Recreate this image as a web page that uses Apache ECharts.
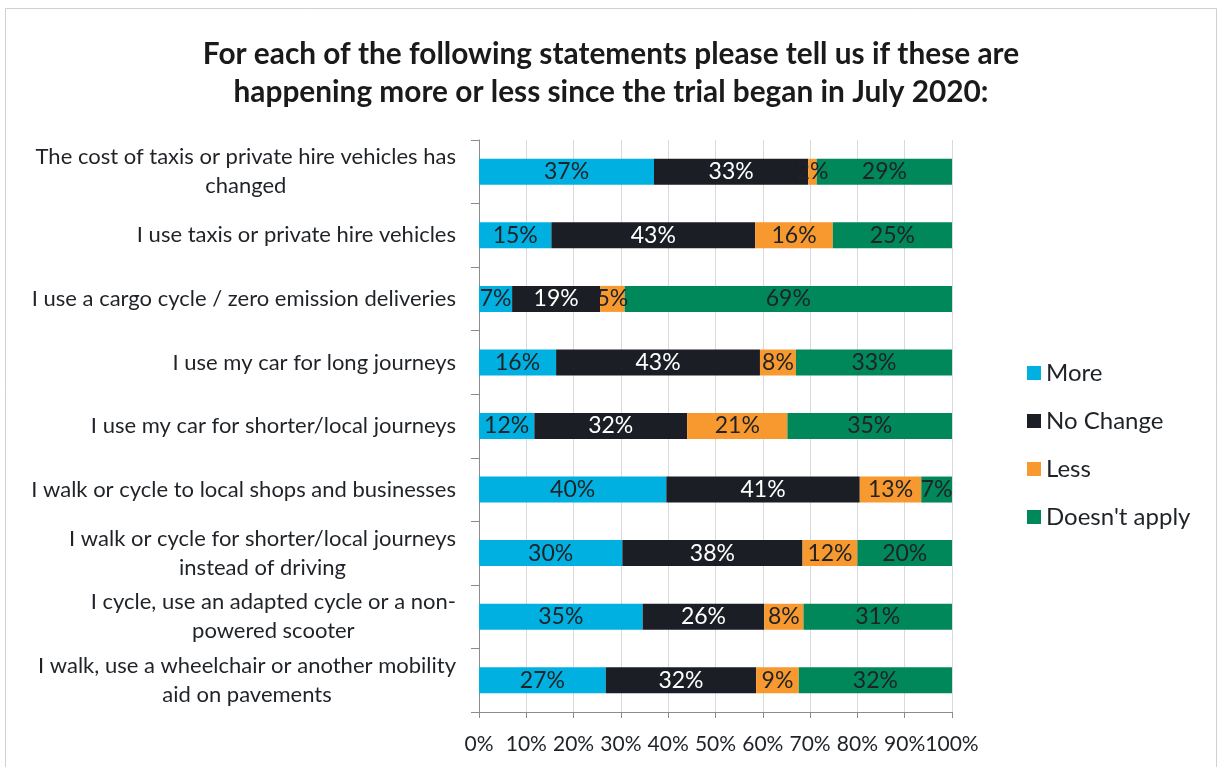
<!DOCTYPE html>
<html>
<head>
<meta charset="utf-8">
<script src="https://cdn.jsdelivr.net/npm/echarts@6/dist/echarts.min.js"></script>
<style>
  html, body { margin: 0; padding: 0; background: #fff; }
  #chart { width: 1222px; height: 767px; }
</style>
</head>
<body>
<div id="chart"></div>
<script>
// Survey statements (top to bottom), line breaks as shown on the axis
const categories = [
  'The cost of taxis or private hire vehicles has\nchanged',
  'I use taxis or private hire vehicles',
  'I use a cargo cycle / zero emission deliveries',
  'I use my car for long journeys',
  'I use my car for shorter/local journeys',
  'I walk or cycle to local shops and businesses',
  'I walk or cycle for shorter/local journeys\ninstead of driving',
  'I cycle, use an adapted cycle or a non-\npowered scooter',
  'I walk, use a wheelchair or another mobility\naid on pavements'
];

// Share of respondents (%) per answer, in the same order as categories
const more         = [37.0, 15.3, 7.0, 16.3, 11.7, 39.6, 30.3, 34.6, 26.8];
const noChange     = [32.6, 43.1, 18.6, 43.1, 32.3, 40.9, 38.1, 25.7, 31.8];
const less         = [1.8, 16.4, 5.2, 7.6, 21.2, 13.0, 11.6, 8.3, 9.0];
const doesntApply  = [28.6, 25.2, 69.2, 33.0, 34.8, 6.5, 20.0, 31.4, 32.4];

const seriesNames = ['More', 'No Change', 'Less', "Doesn't apply"];
const xTicks = { min: 0, max: 100, interval: 10 };

const FONT = 'Lato, "Open Sans", sans-serif';
const TEXT = '#1f2227';

const chart = echarts.init(document.getElementById('chart'), null, { renderer: 'canvas' });

function barSeries(name, values, color, labelColor) {
  return {
    name: name,
    type: 'bar',
    stack: 'total',
    barWidth: 26,
    data: values,
    itemStyle: { color: color },
    emphasis: { disabled: true },
    label: {
      show: true,
      position: 'inside',
      color: labelColor,
      fontFamily: FONT,
      fontSize: 23,
      formatter: p => Math.round(p.value) + '%'
    }
  };
}

chart.setOption({
  animation: false,
  backgroundColor: '#ffffff',
  title: {
    text: 'For each of the following statements please tell us if these are\nhappening more or less since the trial began in July 2020:',
    left: 'center',
    top: 30,
    textStyle: {
      fontFamily: FONT,
      fontWeight: 'bold',
      fontSize: 29.8,
      lineHeight: 38,
      color: '#1a1a1a'
    }
  },
  graphic: [{
    type: 'rect',
    shape: { x: 5.5, y: 8.5, width: 1211, height: 800 },
    style: { fill: 'none', stroke: '#d0d0d0', lineWidth: 1 },
    silent: true,
    z: -10
  }],
  legend: {
    orient: 'vertical',
    left: 1022,
    top: 356,
    itemWidth: 14,
    itemHeight: 14,
    itemGap: 24,
    icon: 'rect',
    data: seriesNames,
    textStyle: { fontFamily: FONT, fontSize: 24, color: TEXT }
  },
  grid: { left: 479, right: 270, top: 140, bottom: 55, containLabel: false },
  xAxis: {
    type: 'value',
    min: xTicks.min,
    max: xTicks.max,
    interval: xTicks.interval,
    axisLine: { show: true, lineStyle: { color: '#8c8c8c' } },
    axisTick: { show: true, length: 6, lineStyle: { color: '#8c8c8c' } },
    splitLine: { show: true, lineStyle: { color: '#d9d9d9' } },
    axisLabel: {
      formatter: '{value}%',
      fontFamily: FONT,
      fontSize: 21,
      color: TEXT,
      margin: 22,
      showMinLabel: true,
      showMaxLabel: true,
      hideOverlap: false
    }
  },
  yAxis: {
    type: 'category',
    inverse: true,
    data: categories,
    axisLine: { show: true, lineStyle: { color: '#8c8c8c' } },
    axisTick: { show: true, length: 8, lineStyle: { color: '#8c8c8c' } },
    axisLabel: {
      margin: 23,
      align: 'right',
      formatter: v => v.split('\n').map(l => '{c|' + l + '}').join('\n'),
      rich: {
        c: { align: 'center', fontFamily: FONT, fontSize: 22, lineHeight: 29, color: TEXT }
      }
    }
  },
  series: [
    barSeries(seriesNames[0], more, '#00b0e0', TEXT),
    barSeries(seriesNames[1], noChange, '#1b1e24', '#ffffff'),
    barSeries(seriesNames[2], less, '#f7992f', TEXT),
    barSeries(seriesNames[3], doesntApply, '#00885a', TEXT)
  ]
});
</script>
</body>
</html>
